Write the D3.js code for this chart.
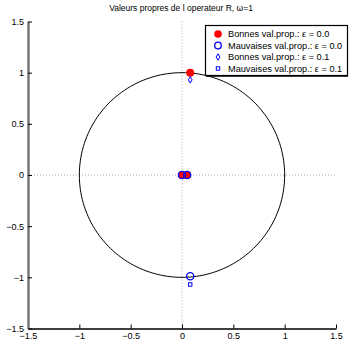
<!DOCTYPE html>
<html><head><meta charset="utf-8">
<script src="https://cdn.jsdelivr.net/npm/d3@7"></script>
<style>body{margin:0;background:#fff;} svg{display:block;font-family:"Liberation Sans",Arial,sans-serif;}</style>
</head><body><svg id="c" width="350" height="350"></svg>
<script>
const titleText = "Valeurs propres de l operateur R, \u03c9=1";
const xTicks = [-1.5, -1, -0.5, 0, 0.5, 1, 1.5];
const yTicks = [-1.5, -1, -0.5, 0, 0.5, 1, 1.5];
const goodX0 = [0, 0.05, 0.08];
const goodY0 = [0, 0, 1.0];
const badX0 = [0, 0.05, 0.08];
const badY0 = [0, 0, -0.99];
const goodX1 = [0.08];
const goodY1 = [0.93];
const badX1 = [0.08];
const badY1 = [-1.07];
const legendLabels = ["Bonnes val.prop.: \u03b5 = 0.0", "Mauvaises val.prop.: \u03b5 = 0.0", "Bonnes val.prop.: \u03b5 = 0.1", "Mauvaises val.prop.: \u03b5 = 0.1"];

const svg = d3.select("#c");
const x = d3.scaleLinear().domain([-1.5, 1.5]).range([28, 336]);
const y = d3.scaleLinear().domain([-1.5, 1.5]).range([328.5, 21.5]);

// dotted zero grid lines
svg.append("line").attr("x1", x(-1.5)).attr("x2", x(1.5)).attr("y1", y(0)).attr("y2", y(0))
  .attr("stroke", "#aaa").attr("stroke-dasharray", "1,2");
svg.append("line").attr("x1", x(0)).attr("x2", x(0)).attr("y1", y(-1.5)).attr("y2", y(1.5))
  .attr("stroke", "#aaa").attr("stroke-dasharray", "1,2");

// unit circle
const circ = d3.range(0, 361, 2).map(a => [Math.cos(a * Math.PI / 180), Math.sin(a * Math.PI / 180)]);
svg.append("path").attr("d", d3.line().x(d => x(d[0])).y(d => y(d[1]))(circ))
  .attr("fill", "none").attr("stroke", "#000").attr("stroke-width", 1);

// axes
const xAxis = svg.append("g").attr("transform", `translate(0,${y(-1.5)})`)
  .call(d3.axisBottom(x).tickValues(xTicks).tickSizeInner(-4).tickSizeOuter(0).tickPadding(4).tickFormat(d3.format("")));
xAxis.select(".domain").attr("stroke", "#000").attr("stroke-width", 1.5);
xAxis.selectAll("text").attr("font-size", 9).attr("fill", "#000").attr("font-family", "Liberation Sans, Arial, sans-serif");
const yAxis = svg.append("g").attr("transform", `translate(${x(-1.5)},0)`)
  .call(d3.axisLeft(y).tickValues(yTicks).tickSizeInner(-4).tickSizeOuter(0).tickPadding(4).tickFormat(d3.format("")));
yAxis.select(".domain").attr("stroke", "#777").attr("stroke-width", 2.5);
yAxis.selectAll("text").attr("font-size", 9).attr("fill", "#000").attr("font-family", "Liberation Sans, Arial, sans-serif");
svg.selectAll(".tick text").text(function(d){ return String(d).replace("-", "\u2212"); });

// markers
function zip(a, b) { return a.map((v, i) => [v, b[i]]); }
svg.append("g").selectAll("circle").data(zip(goodX0, goodY0)).join("circle")
  .attr("cx", d => x(d[0])).attr("cy", d => y(d[1])).attr("r", 4).attr("fill", "#f00");
svg.append("g").selectAll("circle").data(zip(badX0, badY0)).join("circle")
  .attr("cx", d => x(d[0])).attr("cy", d => y(d[1])).attr("r", 3.6).attr("fill", "none")
  .attr("stroke", "#00f").attr("stroke-width", 1.3);
const diamond = d3.symbol().type(d3.symbolDiamond).size(12);
svg.append("g").selectAll("path").data(zip(goodX1, goodY1)).join("path")
  .attr("transform", d => `translate(${x(d[0])},${y(d[1])})`).attr("d", diamond)
  .attr("fill", "none").attr("stroke", "#00f").attr("stroke-width", 1);
svg.append("g").selectAll("rect").data(zip(badX1, badY1)).join("rect")
  .attr("x", d => x(d[0]) - 1.7).attr("y", d => y(d[1]) - 1.7).attr("width", 3.4).attr("height", 3.4)
  .attr("fill", "none").attr("stroke", "#00f").attr("stroke-width", 1);

// title
svg.append("text").attr("x", 181).attr("y", 11).attr("text-anchor", "middle")
  .attr("font-size", 8.5).attr("fill", "#000").text(titleText);

// legend
const lg = svg.append("g");
lg.append("rect").attr("x", 205.5).attr("y", 25.5).attr("width", 142).attr("height", 50)
  .attr("fill", "#fff").attr("stroke", "#000").attr("stroke-width", 1.2);
lg.append("line").attr("x1", 206).attr("x2", 348).attr("y1", 76).attr("y2", 76).attr("stroke", "#000").attr("stroke-width", 1.5);
const ly = [34, 45.5, 57, 68.5];
legendLabels.forEach((t, i) => {
  lg.append("text").attr("x", 228).attr("y", ly[i] + 3.3).attr("font-size", 9.2).attr("fill", "#000").text(t);
});
lg.append("circle").attr("cx", 218).attr("cy", ly[0]).attr("r", 3.8).attr("fill", "#f00");
lg.append("circle").attr("cx", 218).attr("cy", ly[1]).attr("r", 3.3).attr("fill", "none").attr("stroke", "#00f").attr("stroke-width", 1.3);
lg.append("path").attr("transform", `translate(218,${ly[2]})`).attr("d", diamond).attr("fill", "none").attr("stroke", "#00f");
lg.append("rect").attr("x", 216.3).attr("y", ly[3] - 1.7).attr("width", 3.4).attr("height", 3.4).attr("fill", "none").attr("stroke", "#00f");
</script></body></html>
